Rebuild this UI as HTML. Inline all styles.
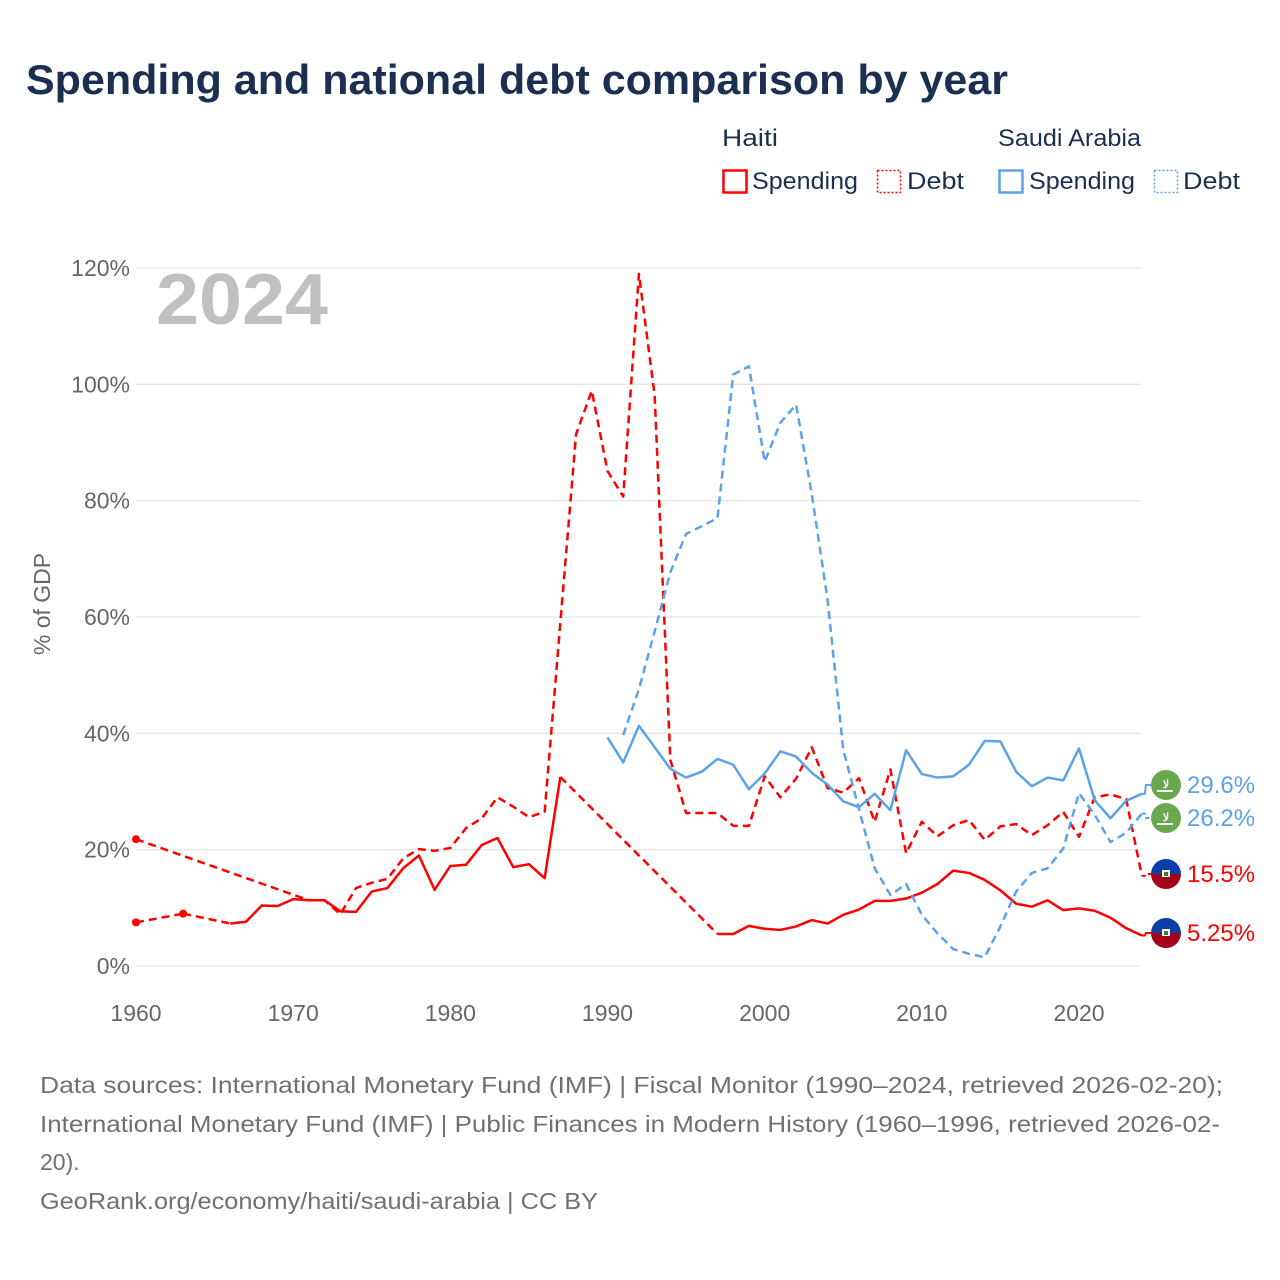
<!DOCTYPE html>
<html><head><meta charset="utf-8"><style>
html,body{margin:0;padding:0;background:#fff;}
svg{display:block;font-family:"Liberation Sans",sans-serif;}
</style></head><body>
<svg id="chart" width="1280" height="1280" viewBox="0 0 1280 1280" xmlns="http://www.w3.org/2000/svg">
<text x="26" y="94" font-size="42" font-weight="bold" fill="#1b3050" textLength="982" lengthAdjust="spacingAndGlyphs">Spending and national debt comparison by year</text>
<g font-size="24" fill="#1b3050">
<text x="722" y="146" textLength="56" lengthAdjust="spacingAndGlyphs">Haiti</text>
<text x="998" y="146" textLength="143" lengthAdjust="spacingAndGlyphs">Saudi Arabia</text>
<g><rect x="723.5" y="170.5" width="23" height="22" fill="none" stroke="#ff0000" stroke-width="2.5"/><text x="752" y="189" textLength="106" lengthAdjust="spacingAndGlyphs">Spending</text></g>
<g><rect x="877.5" y="170.5" width="23" height="22" fill="none" stroke="#ff0000" stroke-width="1.5" stroke-dasharray="2,2"/><text x="907" y="189" textLength="57" lengthAdjust="spacingAndGlyphs">Debt</text></g>
<g><rect x="999.5" y="170.5" width="23" height="22" fill="none" stroke="#5ba3e6" stroke-width="2.5"/><text x="1029" y="189" textLength="106" lengthAdjust="spacingAndGlyphs">Spending</text></g>
<g><rect x="1154.5" y="170.5" width="23" height="22" fill="none" stroke="#5ba3e6" stroke-width="1.5" stroke-dasharray="2,2"/><text x="1183" y="189" textLength="57" lengthAdjust="spacingAndGlyphs">Debt</text></g>
</g>
<text x="156" y="324" font-size="72" font-weight="bold" fill="#c0c0c0" textLength="172" lengthAdjust="spacingAndGlyphs">2024</text>
<text transform="translate(50,604) rotate(-90)" text-anchor="middle" font-size="23" fill="#666">% of GDP</text>
<g id="grid"></g>
<g id="yticks" font-size="23" fill="#666" text-anchor="end"></g>
<g id="xticks" font-size="23" fill="#666" text-anchor="middle"></g>
<g id="series"></g>
<g id="labels"></g>
<g font-size="23" fill="#707070">
<text x="40" y="1093" textLength="1183" lengthAdjust="spacingAndGlyphs">Data sources: International Monetary Fund (IMF) | Fiscal Monitor (1990–2024, retrieved 2026-02-20);</text>
<text x="40" y="1132" textLength="1180" lengthAdjust="spacingAndGlyphs">International Monetary Fund (IMF) | Public Finances in Modern History (1960–1996, retrieved 2026-02-</text>
<text x="40" y="1170">20).</text>
<text x="40" y="1209" textLength="558" lengthAdjust="spacingAndGlyphs">GeoRank.org/economy/haiti/saudi-arabia | CC BY</text>
</g>
</svg>
<script>
const haitiSpendingYears = [1960,1963,1966,1967,1968,1969,1970,1971,1972,1973,1974,1975,1976,1977,1978,1979,1980,1981,1982,1983,1984,1985,1986,1987,1997,1998,1999,2000,2001,2002,2003,2004,2005,2006,2007,2008,2009,2010,2011,2012,2013,2014,2015,2016,2017,2018,2019,2020,2021,2022,2023,2024];
const haitiSpending = [7.5,9.0,7.3,7.6,10.4,10.3,11.5,11.3,11.3,9.4,9.3,12.8,13.4,16.8,19.0,13.1,17.2,17.4,20.8,22.0,17.0,17.5,15.1,32.5,5.5,5.5,6.9,6.4,6.2,6.8,7.9,7.3,8.8,9.7,11.2,11.2,11.6,12.6,14.1,16.4,16.0,14.8,13.0,10.7,10.2,11.3,9.6,9.9,9.5,8.3,6.5,5.25];
const haitiDebtYears = [1960,1971,1972,1973,1974,1975,1976,1977,1978,1979,1980,1981,1982,1983,1984,1985,1986,1987,1988,1989,1990,1991,1992,1993,1994,1995,1996,1997,1998,1999,2000,2001,2002,2003,2004,2005,2006,2007,2008,2009,2010,2011,2012,2013,2014,2015,2016,2017,2018,2019,2020,2021,2022,2023,2024];
const haitiDebt = [21.8,11.3,11.3,8.9,13.4,14.3,15.0,18.5,20.1,19.8,20.3,23.7,25.4,29.0,27.4,25.6,26.5,59,91.4,98.9,85.1,80.7,119,98.1,35.4,26.3,26.3,26.3,24.1,24.1,32.6,29.0,32.2,37.6,30.6,29.8,32.3,24.8,33.8,19.4,24.8,22.3,24.2,25.1,21.7,24.0,24.4,22.5,24.2,26.5,22.2,29.0,29.5,28.7,15.5];
const saudiSpendingYears = [1990,1991,1992,1993,1994,1995,1996,1997,1998,1999,2000,2001,2002,2003,2004,2005,2006,2007,2008,2009,2010,2011,2012,2013,2014,2015,2016,2017,2018,2019,2020,2021,2022,2023,2024];
const saudiSpending = [39.3,35.0,41.3,37.6,33.9,32.4,33.4,35.6,34.6,30.4,33.1,36.9,36.0,33.2,31.2,28.3,27.3,29.6,26.8,37.1,33.0,32.4,32.6,34.6,38.7,38.6,33.4,30.9,32.4,31.9,37.4,28.5,25.4,28.4,29.6];
const saudiDebtYears = [1991,1992,1993,1994,1995,1996,1997,1998,1999,2000,2001,2002,2003,2004,2005,2006,2007,2008,2009,2010,2011,2012,2013,2014,2015,2016,2017,2018,2019,2020,2021,2022,2023,2024];
const saudiDebt = [39.7,47.6,57.5,67.7,74.3,75.6,77.0,101.7,103.1,86.7,93.4,96.5,81.1,63.0,37.2,27.0,16.8,12.2,14.1,8.8,5.6,2.9,2.1,1.5,6.8,12.8,16.0,16.8,20.2,29.7,26.0,21.3,22.9,26.2];
const yTickValues = [0,20,40,60,80,100,120];
const yTickLabels = ["0%","20%","40%","60%","80%","100%","120%"];
const xTickValues = [1960,1970,1980,1990,2000,2010,2020];
const endLabelText = ["29.6%","26.2%","15.5%","5.25%"];

const NS = "http://www.w3.org/2000/svg";
const X0 = 136, X1 = 1141, Y0 = 966, Y1 = 268;
function xScale(yr){ return X0 + (yr - 1960) * (1079 - 136) / 60; }
function yScale(v){ return Y0 - v * (Y0 - Y1) / 120; }
function mk(tag, attrs, parent){ const e = document.createElementNS(NS, tag); for (const k in attrs) e.setAttribute(k, attrs[k]); parent.appendChild(e); return e; }

const grid = document.getElementById('grid');
const yt = document.getElementById('yticks');
yTickValues.forEach((v, i) => {
  const l = mk('line', {x1: X0, x2: X1, y1: yScale(v), y2: yScale(v), stroke: '#e6e6e6', 'stroke-width': 1.3}, grid);
  
  
  const t = mk('text', {x: 130, y: yScale(v) + 8}, yt);
  t.textContent = yTickLabels[i];
  
  
});
const xt = document.getElementById('xticks');
xTickValues.forEach(v => {
  const t = mk('text', {x: xScale(v), y: 1021}, xt);
  t.textContent = String(v);
  
  
});

const series = document.getElementById('series');
function drawSeries(ys, vs, color, dashed, name){
  const g = mk('g', {}, series);
  
  
  let seg = [], segs = [], gaps = [];
  for (let i = 0; i < ys.length; i++) {
    if (i > 0 && ys[i] - ys[i-1] > 1) { segs.push(seg); gaps.push([[ys[i-1], vs[i-1]], [ys[i], vs[i]]]); seg = []; }
    seg.push([ys[i], vs[i]]);
  }
  segs.push(seg);
  segs.forEach(s => {
    if (s.length === 1) {
      const c = mk('circle', {cx: xScale(s[0][0]), cy: yScale(s[0][1]), r: 4, fill: color}, g);
      
      
    } else {
      const p = mk('polyline', {points: s.map(d => xScale(d[0]) + ',' + yScale(d[1])).join(' '), fill: 'none', stroke: color, 'stroke-width': 2.5, 'stroke-linejoin': 'round'}, g);
      if (dashed) p.setAttribute('stroke-dasharray', '8,5');
      
      
    }
  });
  gaps.forEach(gp => {
    const p = mk('polyline', {points: gp.map(d => xScale(d[0]) + ',' + yScale(d[1])).join(' '), fill: 'none', stroke: color, 'stroke-width': 2.5, 'stroke-dasharray': '8,5'}, g);
    
    
  });
}
const RED = '#ff0000', BLUE = '#5ba3e6';
drawSeries(haitiDebtYears, haitiDebt, RED, true, 'haiti-debt-line');
drawSeries(haitiSpendingYears, haitiSpending, RED, false, 'haiti-spending-line');
drawSeries(saudiDebtYears, saudiDebt, BLUE, true, 'saudi-debt-line');
drawSeries(saudiSpendingYears, saudiSpending, BLUE, false, 'saudi-spending-line');

const labels = document.getElementById('labels');
const ends = [
  {v: saudiSpending[saudiSpending.length-1], ly: 785, c: BLUE, flag: 'saudi', dash: false},
  {v: saudiDebt[saudiDebt.length-1], ly: 818, c: BLUE, flag: 'saudi', dash: true},
  {v: haitiDebt[haitiDebt.length-1], ly: 874, c: RED, flag: 'haiti', dash: true},
  {v: haitiSpending[haitiSpending.length-1], ly: 933, c: RED, flag: 'haiti', dash: false}
];
ends.forEach((e, i) => {
  const g = mk('g', {}, labels);
  
  
  const x2024 = xScale(2024);
  const p = mk('polyline', {points: `${x2024},${yScale(e.v)} ${x2024+3},${yScale(e.v)} ${x2024+4},${e.ly} ${x2024+10},${e.ly}`, fill: 'none', stroke: e.c, 'stroke-width': 2}, g);
  if (e.dash) p.setAttribute('stroke-dasharray', '4,3');
  if (e.flag === 'saudi') {
    mk('circle', {cx: 1166, cy: e.ly, r: 15, fill: '#6aa84f'}, g);
    const t = mk('text', {x: 1166, y: e.ly + 3, 'font-size': 11, fill: '#fff', 'text-anchor': 'middle', 'font-weight': 'bold'}, g);
    t.textContent = 'لا';
    mk('rect', {x: 1157, y: e.ly + 5, width: 16, height: 2, fill: '#fff'}, g);
  } else {
    mk('path', {d: `M1151,${e.ly} a15,15 0 0 1 30,0 z`, fill: '#0a3fa8'}, g);
    mk('path', {d: `M1151,${e.ly} a15,15 0 0 0 30,0 z`, fill: '#a3001c'}, g);
    mk('rect', {x: 1162, y: e.ly - 4, width: 8, height: 7, fill: '#fff'}, g);
    mk('rect', {x: 1164, y: e.ly - 2, width: 4, height: 4, fill: '#3a7a3a'}, g);
  }
  const t = mk('text', {x: 1187, y: e.ly + 8, 'font-size': 24, fill: e.c}, g);
  t.textContent = endLabelText[i];
  
  
});
</script>
</body></html>
